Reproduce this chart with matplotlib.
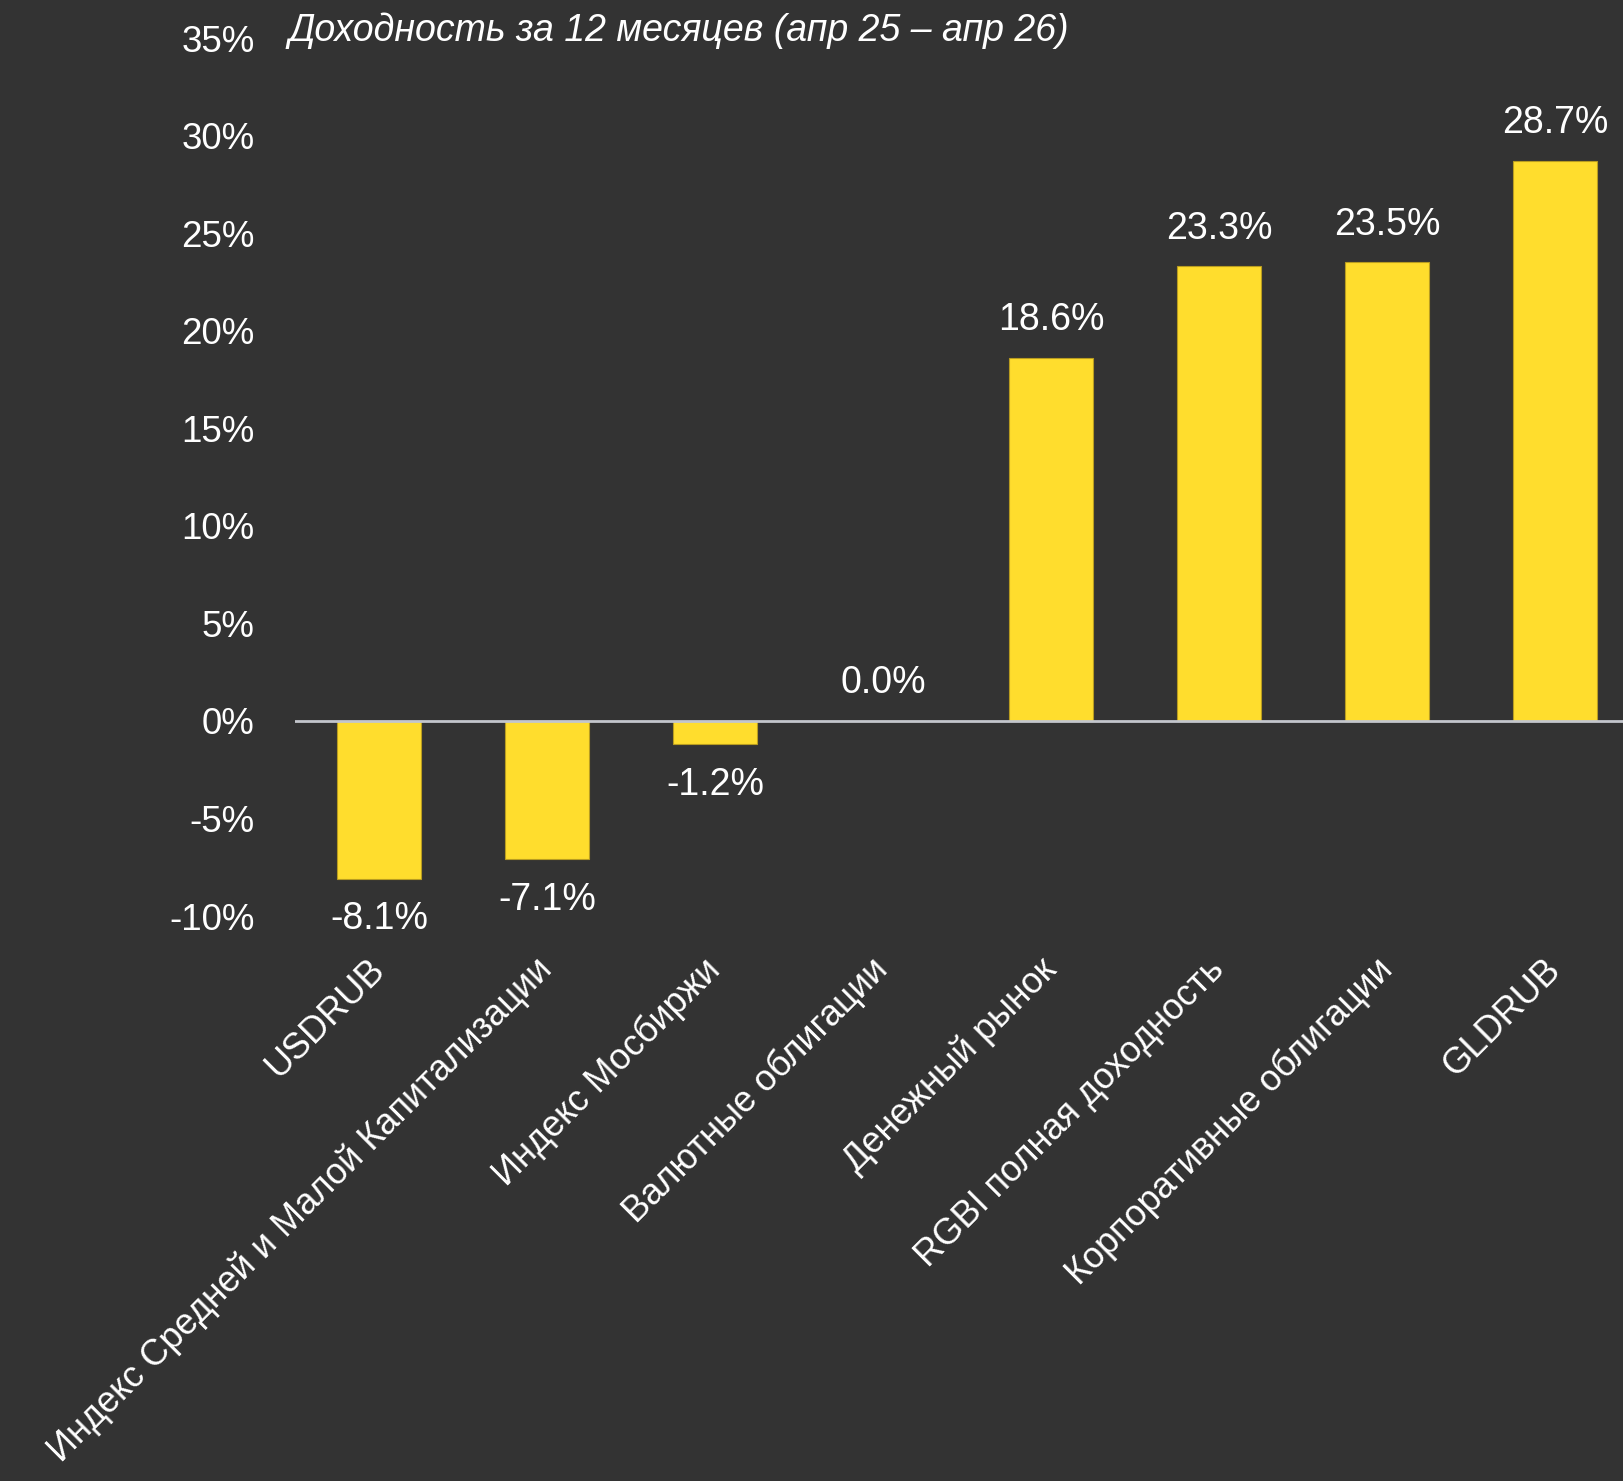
import matplotlib
matplotlib.use("Agg")
import matplotlib.pyplot as plt
from matplotlib import font_manager

categories = ["USDRUB", "Индекс Средней и Малой Капитализации", "Индекс Мосбиржи",
              "Валютные облигации", "Денежный рынок", "RGBI полная доходность",
              "Корпоративные облигации", "GLDRUB"]
values = [-8.1, -7.1, -1.2, 0.0, 18.6, 23.3, 23.5, 28.7]
yticks = [-10, -5, 0, 5, 10, 15, 20, 25, 30, 35]
title = "Доходность за 12 месяцев (апр 25 – апр 26)"

names = {f.name for f in font_manager.fontManager.ttflist}
narrow = "Liberation Sans Narrow" if "Liberation Sans Narrow" in names else "Liberation Sans"
fam = [narrow, "DejaVu Sans"]

BG = "#333333"
BAR = "#FFDD2D"
W, H = 1624, 1481
fig = plt.figure(figsize=(W / 100, H / 100), dpi=100, facecolor=BG)
ax = fig.add_axes([295 / W, 1 - 916 / H, 1 - 295 / W, (916 - 38) / H])
ax.set_facecolor(BG)

x = list(range(len(categories)))
ax.bar(x, values, width=0.5, color=BAR, edgecolor="#b89c20", linewidth=0.8, zorder=2)
ax.axhline(0, color="#c3c6cc", linewidth=2, zorder=3)

ax.set_xlim(-0.5, 7.41)
ax.set_ylim(-10, 35)
ax.set_yticks(yticks)
ax.set_yticklabels([f"{t}%" for t in yticks], family=fam, fontsize=26.5, color="white")
ax.tick_params(axis="y", length=0, pad=29)
ax.set_xticks(x)
ax.set_xticklabels(categories, rotation=45, ha="right", va="center", rotation_mode="anchor",
                   family=fam, fontsize=26, color="white")
ax.tick_params(axis="x", length=0, pad=35)
for s in ax.spines.values():
    s.set_visible(False)

for xi, v in zip(x, values):
    off = 27 if v >= 0 else -29
    ax.annotate(f"{v:.1f}%", (xi, v), xytext=(0, off), textcoords="offset points",
                ha="center", va="center", fontsize=27, color="white", family=fam)

fig.text(288 / W, 1 - 31 / H, title, ha="left", va="center", fontsize=27,
         color="white", style="italic", family=fam)

fig.savefig("out.png", dpi=100, facecolor=BG)
